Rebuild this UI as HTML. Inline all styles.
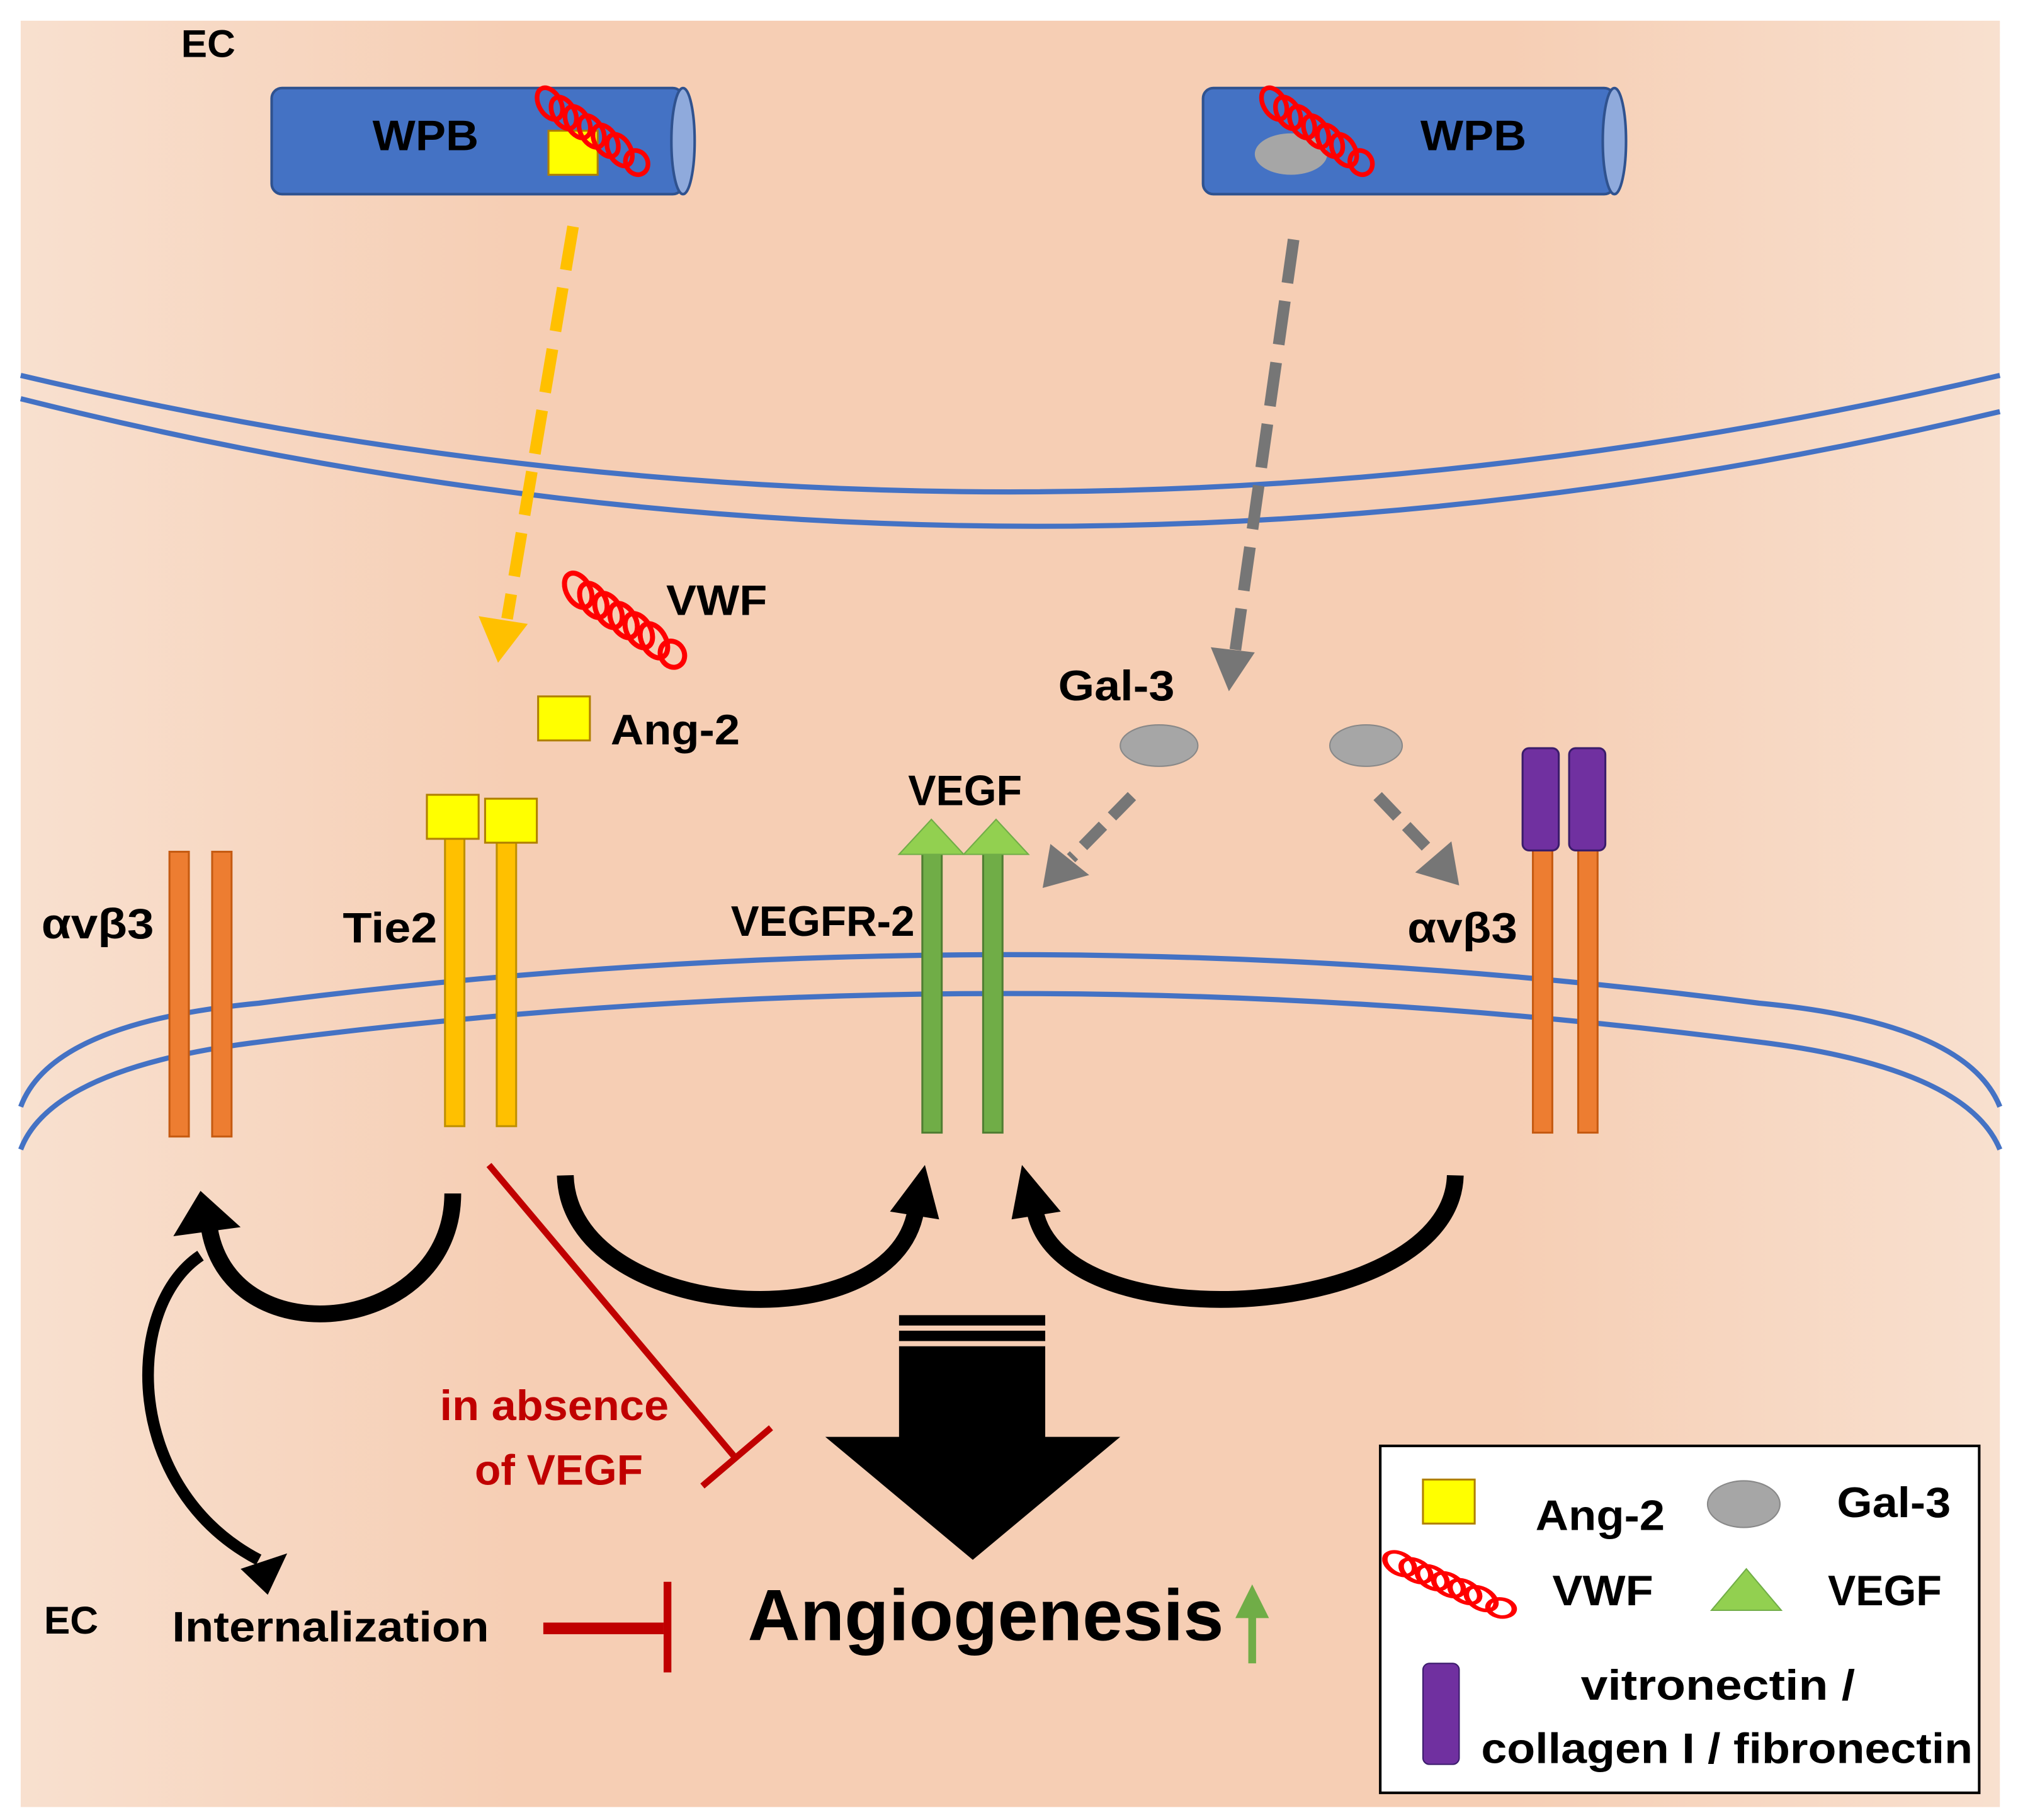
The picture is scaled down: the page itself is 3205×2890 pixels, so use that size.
<!DOCTYPE html>
<html><head><meta charset="utf-8"><style>html,body{margin:0;padding:0;background:#fff}svg{display:block}</style></head>
<body>
<svg width="3205" height="2890" viewBox="0 0 1560 1406" preserveAspectRatio="none" xmlns="http://www.w3.org/2000/svg" font-family="Liberation Sans, sans-serif" font-weight="bold">
<defs>
<linearGradient id="bg" x1="0" x2="1" y1="0" y2="0">
<stop offset="0" stop-color="#f8e0cf"/><stop offset="0.25" stop-color="#f6ceb4"/><stop offset="0.75" stop-color="#f6ceb4"/><stop offset="1" stop-color="#f8e0cf"/></linearGradient>
<g id="vwf" fill="none" stroke="#f00" stroke-width="3">
<ellipse cx="0" cy="0" rx="7" ry="11" transform="rotate(-30)"/><ellipse cx="9" cy="6" rx="7" ry="11" transform="rotate(-30 9 6)"/><ellipse cx="18" cy="12" rx="7" ry="11" transform="rotate(-30 18 12)"/><ellipse cx="27" cy="18" rx="7" ry="11" transform="rotate(-30 27 18)"/><ellipse cx="36" cy="24" rx="7" ry="11" transform="rotate(-30 36 24)"/><ellipse cx="45" cy="30" rx="7" ry="11" transform="rotate(-30 45 30)"/><ellipse cx="56" cy="38" rx="7" ry="8" transform="rotate(-30 56 38)"/></g>
</defs>
<rect x="16" y="16" width="1530" height="1380" fill="url(#bg)"/>
<g fill="none" stroke="#4472c4" stroke-width="4">
<path d="M16,290 Q780,470 1546,290"/><path d="M16,308 Q780,500 1546,318"/>
<path d="M16,855 Q40,790 200,775 Q780,700 1360,775 Q1520,790 1546,855"/>
<path d="M16,888 Q40,825 200,805 Q780,730 1360,805 Q1520,825 1546,888"/>
</g>
<rect x="210" y="68" width="318" height="82" rx="8" fill="#4472c4" stroke="#2f528f" stroke-width="2"/>
<ellipse cx="528" cy="109" rx="9" ry="41" fill="#8faadc" stroke="#2f528f" stroke-width="2"/>
<rect x="930" y="68" width="318" height="82" rx="8" fill="#4472c4" stroke="#2f528f" stroke-width="2"/>
<ellipse cx="1248" cy="109" rx="9" ry="41" fill="#8faadc" stroke="#2f528f" stroke-width="2"/>
<rect x="424" y="101" width="38" height="34" fill="#ff0" stroke="#b08000" stroke-width="1.5"/>
<use href="#vwf" transform="translate(425,80) scale(1.2)"/>
<ellipse cx="998" cy="119" rx="28" ry="16" fill="#a6a6a6"/>
<use href="#vwf" transform="translate(985,80) scale(1.2)"/>
<text x="288" y="116" font-size="33" textLength="82" lengthAdjust="spacingAndGlyphs">WPB</text>
<text x="1098" y="116" font-size="33" textLength="82" lengthAdjust="spacingAndGlyphs">WPB</text>
<text x="140" y="44" font-size="30" textLength="42" lengthAdjust="spacingAndGlyphs">EC</text>
<line x1="443" y1="175" x2="392" y2="478" stroke="#ffc000" stroke-width="9" stroke-dasharray="34,14"/>
<polygon points="370,476 408,482 385,512" fill="#ffc000"/>
<line x1="1000" y1="185" x2="955" y2="502" stroke="#767676" stroke-width="9" stroke-dasharray="34,14"/>
<polygon points="936,500 970,504 950,534" fill="#767676"/>
<line x1="875" y1="615" x2="828" y2="663" stroke="#767676" stroke-width="9" stroke-dasharray="22,10"/>
<polygon points="812,652 842,676 806,686" fill="#767676"/>
<line x1="1065" y1="615" x2="1108" y2="660" stroke="#767676" stroke-width="9" stroke-dasharray="22,10"/>
<polygon points="1094,674 1122,650 1128,684" fill="#767676"/>
<use href="#vwf" transform="translate(447,456) scale(1.3)"/>
<text x="515" y="475" font-size="33" textLength="78" lengthAdjust="spacingAndGlyphs">VWF</text>
<rect x="416" y="538" width="40" height="34" fill="#ff0" stroke="#b08000" stroke-width="1.5"/>
<text x="472" y="575" font-size="33" textLength="100" lengthAdjust="spacingAndGlyphs">Ang-2</text>
<text x="818" y="541" font-size="33" textLength="90" lengthAdjust="spacingAndGlyphs">Gal-3</text>
<ellipse cx="896" cy="576" rx="30" ry="16" fill="#a6a6a6" stroke="#888" stroke-width="1"/>
<ellipse cx="1056" cy="576" rx="28" ry="16" fill="#a6a6a6" stroke="#888" stroke-width="1"/>
<g stroke="#c55a11" stroke-width="1.5" fill="#ed7d31">
<rect x="131" y="658" width="15" height="220"/><rect x="164" y="658" width="15" height="220"/>
<rect x="1185" y="650" width="15" height="225"/><rect x="1220" y="650" width="15" height="225"/>
</g>
<g stroke="#bf9000" stroke-width="1.5" fill="#ffc000">
<rect x="344" y="645" width="15" height="225"/><rect x="384" y="645" width="15" height="225"/>
</g>
<rect x="330" y="614" width="40" height="34" fill="#ff0" stroke="#b08000" stroke-width="1.5"/>
<rect x="375" y="617" width="40" height="34" fill="#ff0" stroke="#b08000" stroke-width="1.5"/>
<g stroke="#507e32" stroke-width="1.5" fill="#70ad47">
<rect x="713" y="655" width="15" height="220"/><rect x="760" y="655" width="15" height="220"/>
</g>
<polygon points="695,660 720,633 745,660" fill="#92d050" stroke="#70ad47"/>
<polygon points="745,660 770,633 795,660" fill="#92d050" stroke="#70ad47"/>
<g fill="#7030a0" stroke="#3a1c6b" stroke-width="1.5">
<rect x="1177" y="578" width="28" height="79" rx="5"/><rect x="1213" y="578" width="28" height="79" rx="5"/>
</g>
<text x="32" y="725" font-size="33" textLength="87" lengthAdjust="spacingAndGlyphs">αvβ3</text>
<text x="265" y="728" font-size="33" textLength="73" lengthAdjust="spacingAndGlyphs">Tie2</text>
<text x="565" y="723" font-size="33" textLength="142" lengthAdjust="spacingAndGlyphs">VEGFR-2</text>
<text x="702" y="622" font-size="33" textLength="88" lengthAdjust="spacingAndGlyphs">VEGF</text>
<text x="1088" y="728" font-size="33" textLength="85" lengthAdjust="spacingAndGlyphs">αvβ3</text>
<g fill="none" stroke="#000" stroke-linecap="butt">
<path d="M350,922 C350,1030 180,1050 162,950" stroke-width="13"/>
<path d="M437,908 C440,1020 690,1040 708,935" stroke-width="13"/>
<path d="M1125,908 C1122,1020 820,1040 800,935" stroke-width="13"/>
<path d="M155,970 C95,1010 95,1150 200,1205" stroke-width="9"/>
</g>
<polygon points="134,955 155,920 186,948" fill="#000"/>
<polygon points="688,936 715,900 726,942" fill="#000"/>
<polygon points="782,942 790,900 820,936" fill="#000"/>
<polygon points="186,1212 222,1200 207,1232" fill="#000"/>
<rect x="695" y="1016" width="113" height="8" fill="#000"/>
<rect x="695" y="1028" width="113" height="8" fill="#000"/>
<polygon points="695,1040 808,1040 808,1110 866,1110 752,1205 638,1110 695,1110" fill="#000"/>
<g stroke="#c00000" fill="none">
<line x1="378" y1="900" x2="570" y2="1128" stroke-width="5"/>
<line x1="543" y1="1148" x2="596" y2="1103" stroke-width="5"/>
<line x1="420" y1="1258" x2="513" y2="1258" stroke-width="9"/>
<line x1="516" y1="1222" x2="516" y2="1292" stroke-width="6"/>
</g>
<text x="340" y="1097" font-size="33" fill="#c00000" textLength="177" lengthAdjust="spacingAndGlyphs">in absence</text>
<text x="367" y="1147" font-size="33" fill="#c00000" textLength="130" lengthAdjust="spacingAndGlyphs">of VEGF</text>
<text x="34" y="1262" font-size="30" textLength="42" lengthAdjust="spacingAndGlyphs">EC</text>
<text x="133" y="1268" font-size="33" textLength="245" lengthAdjust="spacingAndGlyphs">Internalization</text>
<text x="578" y="1267" font-size="56" textLength="368" lengthAdjust="spacingAndGlyphs">Angiogenesis</text>
<line x1="968" y1="1285" x2="968" y2="1245" stroke="#70ad47" stroke-width="6"/>
<polygon points="955,1250 968,1224 981,1250" fill="#70ad47"/>
<rect x="1067" y="1117" width="463" height="268" fill="#fff" stroke="#000" stroke-width="2"/>
<rect x="1100" y="1143" width="40" height="34" fill="#ff0" stroke="#b08000" stroke-width="1.5"/>
<text x="1187" y="1182" font-size="33" textLength="100" lengthAdjust="spacingAndGlyphs">Ang-2</text>
<ellipse cx="1348" cy="1162" rx="28" ry="18" fill="#a6a6a6" stroke="#888"/>
<text x="1420" y="1172" font-size="33" textLength="88" lengthAdjust="spacingAndGlyphs">Gal-3</text>
<use href="#vwf" transform="translate(1082,1208) scale(1.4,0.9)"/>
<text x="1200" y="1240" font-size="33" textLength="78" lengthAdjust="spacingAndGlyphs">VWF</text>
<polygon points="1323,1244 1350,1212 1377,1244" fill="#92d050" stroke="#70ad47"/>
<text x="1413" y="1240" font-size="33" textLength="88" lengthAdjust="spacingAndGlyphs">VEGF</text>
<rect x="1100" y="1285" width="28" height="78" rx="5" fill="#7030a0" stroke="#3a1c6b"/>
<text x="1222" y="1313" font-size="33" textLength="212" lengthAdjust="spacingAndGlyphs">vitronectin /</text>
<text x="1145" y="1362" font-size="33" textLength="380" lengthAdjust="spacingAndGlyphs">collagen I / fibronectin</text>
</svg>
</body></html>
